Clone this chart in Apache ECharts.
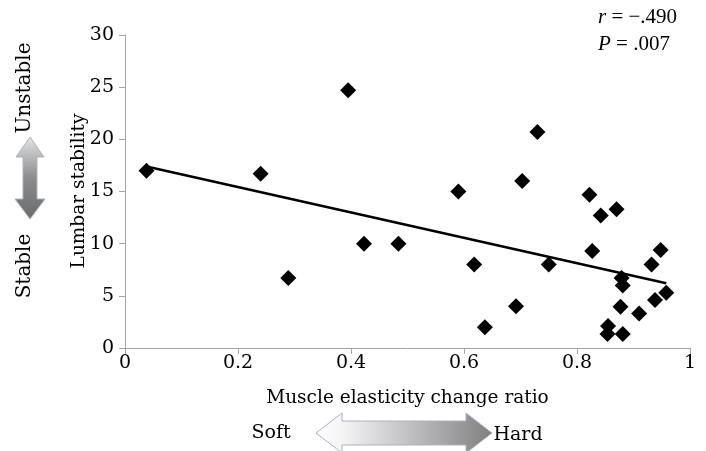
<!DOCTYPE html>
<html>
<head>
<meta charset="utf-8">
<script src="https://cdn.jsdelivr.net/npm/echarts@6/dist/echarts.min.js"></script>
<style>html,body{margin:0;padding:0;background:#fff}#c{width:706px;height:451px}</style>
</head>
<body>
<div id="c"></div>
<script>
// Data
const elasticityRatio = [0.038, 0.240, 0.289, 0.395, 0.423, 0.484, 0.590, 0.618, 0.637, 0.692, 0.703, 0.730, 0.750, 0.822, 0.827, 0.842, 0.870, 0.877, 0.879, 0.881, 0.855, 0.854, 0.881, 0.910, 0.932, 0.948, 0.938, 0.958];
const lumbarStability = [17.0, 16.7, 6.7, 24.7, 10.0, 10.0, 15.0, 8.0, 2.0, 4.0, 16.0, 20.7, 8.0, 14.7, 9.3, 12.7, 13.3, 3.95, 6.7, 6.0, 2.1, 1.35, 1.35, 3.3, 8.0, 9.4, 4.6, 5.3];
const trendX = [0.038, 0.958];
const trendY = [17.4, 6.2];
const xTicks = [0, 0.2, 0.4, 0.6, 0.8, 1];
const yTicks = [0, 5, 10, 15, 20, 25, 30];
const xName = 'Muscle elasticity change ratio';
const yName = 'Lumbar stability';
const statR = '−.490';
const statP = '.007';

const FONT = '"DejaVu Serif", "Liberation Serif", serif';
const FONT2 = '"Liberation Serif", serif';
const chart = echarts.init(document.getElementById('c'));
const scatterData = elasticityRatio.map((x, i) => [x, lumbarStability[i]]);
const trendData = trendX.map((x, i) => [x, trendY[i]]);

chart.setOption({
  animation: false,
  backgroundColor: '#fff',
  grid: { left: 125, right: 16, top: 35, bottom: 103 },
  xAxis: {
    type: 'value', min: xTicks[0], max: xTicks[xTicks.length - 1], interval: 0.2,
    name: xName, nameLocation: 'middle', nameGap: 41,
    nameTextStyle: { fontFamily: FONT, fontSize: 18.5, color: '#000' },
    axisLine: { lineStyle: { color: '#a6a6a6', width: 1 } },
    axisTick: { show: true, length: 6, inside: false, lineStyle: { color: '#a6a6a6' } },
    axisLabel: { fontFamily: FONT, fontSize: 19, color: '#000', margin: 6,
      formatter: v => String(+v.toFixed(1)) },
    splitLine: { show: false }
  },
  yAxis: {
    type: 'value', min: yTicks[0], max: yTicks[yTicks.length - 1], interval: 5,
    axisLine: { show: true, lineStyle: { color: '#a6a6a6', width: 1 } },
    axisTick: { show: true, length: 6, lineStyle: { color: '#a6a6a6' } },
    axisLabel: { fontFamily: FONT, fontSize: 19, color: '#000', margin: 11 },
    splitLine: { show: false }
  },
  series: [
    {
      type: 'line', data: trendData, symbol: 'none', silent: true,
      lineStyle: { color: '#000', width: 2.5 }, z: 2
    },
    {
      type: 'scatter', data: scatterData, symbol: 'diamond', symbolSize: 16,
      itemStyle: { color: '#000', opacity: 1 }, z: 3
    }
  ],
  graphic: [
    { type: 'text', x: 79, y: 191, rotation: Math.PI / 2, style: { text: yName, fontFamily: FONT, fontSize: 18.5, fill: '#000', align: 'center', verticalAlign: 'middle' } },
    { type: 'text', left: 598, top: 7, style: { rich: { i: { fontFamily: FONT2, fontSize: 21, fontStyle: 'italic', fill: '#000' }, n: { fontFamily: FONT2, fontSize: 21, fill: '#000' } }, text: '{i|r}{n| = ' + statR + '}' } },
    { type: 'text', left: 598, top: 34, style: { rich: { i: { fontFamily: FONT2, fontSize: 21, fontStyle: 'italic', fill: '#000' }, n: { fontFamily: FONT2, fontSize: 21, fill: '#000' } }, text: '{i|P}{n| = ' + statP + '}' } },
    { type: 'text', x: 25, y: 88, rotation: Math.PI / 2, style: { text: 'Unstable', fontFamily: FONT, fontSize: 20, fill: '#000', align: 'center', verticalAlign: 'middle' } },
    { type: 'text', x: 25, y: 266, rotation: Math.PI / 2, style: { text: 'Stable', fontFamily: FONT, fontSize: 20, fill: '#000', align: 'center', verticalAlign: 'middle' } },
    { type: 'polygon', shape: { points: [[30, 137], [44, 157], [37, 157], [37, 199], [45, 199], [30, 219], [15, 199], [23, 199], [23, 157], [16, 157]] },
      style: { stroke: '#a9b4c4', lineWidth: 1, fill: new echarts.graphic.LinearGradient(0, 0, 0, 1, [{ offset: 0, color: '#e4e4e4' }, { offset: 0.5, color: '#8c8c8c' }, { offset: 1, color: '#6a6a6a' }]) } },
    { type: 'text', x: 271, y: 433, style: { text: 'Soft', fontFamily: FONT, fontSize: 19, fill: '#000', align: 'center', verticalAlign: 'middle' } },
    { type: 'text', x: 518, y: 435, style: { text: 'Hard', fontFamily: FONT, fontSize: 19, fill: '#000', align: 'center', verticalAlign: 'middle' } },
    { type: 'polygon', shape: { points: [[316, 433], [342, 413], [342, 421], [466, 421], [466, 413], [492, 433], [466, 453], [466, 445], [342, 445], [342, 453]] },
      style: { stroke: '#a9b4c4', lineWidth: 1, fill: new echarts.graphic.LinearGradient(0, 0, 1, 0, [{ offset: 0, color: '#ffffff' }, { offset: 0.15, color: '#f4f4f4' }, { offset: 1, color: '#808080' }]) } }
  ]
});
</script>
</body>
</html>
